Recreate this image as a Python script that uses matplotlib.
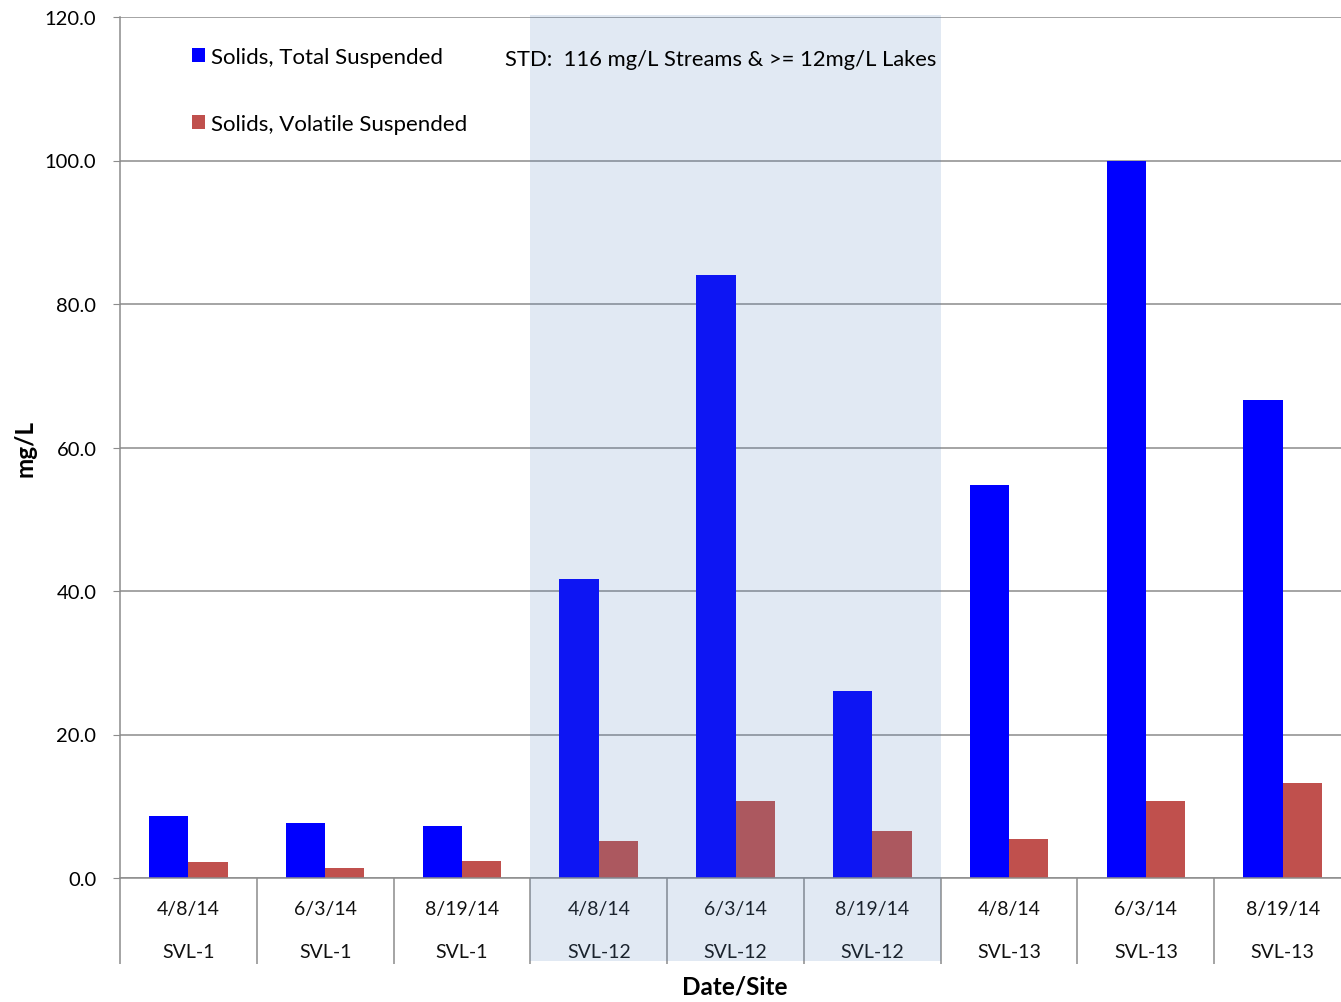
import numpy as np
import matplotlib
matplotlib.use("Agg")
import matplotlib.pyplot as plt
from matplotlib.patches import Rectangle, Patch
import matplotlib.transforms as mtransforms

plt.rcParams['font.family'] = ['Lato', 'DejaVu Sans']

dates = ["4/8/14", "6/3/14", "8/19/14", "4/8/14", "6/3/14", "8/19/14", "4/8/14", "6/3/14", "8/19/14"]
sites = ["SVL-1", "SVL-1", "SVL-1", "SVL-12", "SVL-12", "SVL-12", "SVL-13", "SVL-13", "SVL-13"]
tss = [8.7, 7.6, 7.3, 41.7, 84.0, 26.0, 54.8, 100.0, 66.6]
vss = [2.2, 1.4, 2.3, 5.1, 10.7, 6.5, 5.4, 10.7, 13.3]
yticks = [0, 20, 40, 60, 80, 100, 120]

W, H = 1341, 1003
AW, AH = 1231, 861
fig = plt.figure(figsize=(W / 100, H / 100), dpi=100)
ax = fig.add_axes([120 / W, 1 - 879 / H, AW / W, AH / H])

x = np.arange(len(dates))
bw = 0.287
ax.bar(x - bw / 2, tss, width=bw, color="#0000ff", zorder=2, label="Solids, Total Suspended")
ax.bar(x + bw / 2, vss, width=bw, color="#c0504d", zorder=2, label="Solids, Volatile Suspended")

ax.set_xlim(-0.5, len(dates) - 0.5)
ax.set_ylim(0, 120)
ax.set_yticks(yticks)
ax.set_yticklabels([f"{v:.1f}" for v in yticks], fontsize=14.5)
ax.yaxis.grid(True, color="#8c8c8c", linewidth=1.1)
ax.set_axisbelow(True)

for s in ["top", "right"]:
    ax.spines[s].set_visible(False)
ax.spines["left"].set_color("#8c8c8c")
ax.spines["bottom"].set_color("#8c8c8c")
ax.spines["left"].set_linewidth(1.1)
ax.spines["bottom"].set_linewidth(1.1)
ax.tick_params(axis="y", length=5, color="#8c8c8c", pad=12)

# category separators as long minor ticks
ax.set_xticks([])
ax.set_xticks(np.arange(-0.5, len(dates), 1.0), minor=True)
ax.tick_params(axis="x", which="minor", length=62, color="#8c8c8c", width=1.1, direction="out")

trans = mtransforms.blended_transform_factory(ax.transData, ax.transAxes)
for i in range(len(dates)):
    ax.text(x[i], -31 / AH, dates[i], transform=trans, ha="center", va="center", fontsize=14, color="#111111")
    ax.text(x[i], -74 / AH, sites[i], transform=trans, ha="center", va="center", fontsize=14, color="#111111")

# shaded SVL-12 band
ax.add_patch(Rectangle((2.5, -83 / AH), 3.0, 1 + 85 / AH, transform=trans,
                       facecolor="#4f81bd", alpha=0.17, edgecolor="none", zorder=3, clip_on=False))

ax.text((505 - 120) / AW, 1 - 42 / AH, "STD:  116 mg/L Streams & >= 12mg/L Lakes", transform=ax.transAxes,
        ha="left", va="center", fontsize=15.8, zorder=5)

ax.set_ylabel("mg/L", fontsize=17.5, fontweight="bold")
ax.yaxis.set_label_coords(-83 / AW, 0.5)
fig.text(735 / W, 1 - 987 / H, "Date/Site", ha="center", va="center", fontsize=17.5, fontweight="bold")

handles = [Patch(facecolor="#0000ff"), Patch(facecolor="#c0504d")]
ax.legend(handles, ["Solids, Total Suspended", "Solids, Volatile Suspended"],
          loc="upper left", bbox_to_anchor=((192 - 120) / AW, 1 - 30 / AH), frameon=False,
          fontsize=16, handlelength=0.6, handleheight=0.6, handletextpad=0.25,
          labelspacing=2.1, borderaxespad=0, borderpad=0)

fig.savefig("out.png", dpi=100)
